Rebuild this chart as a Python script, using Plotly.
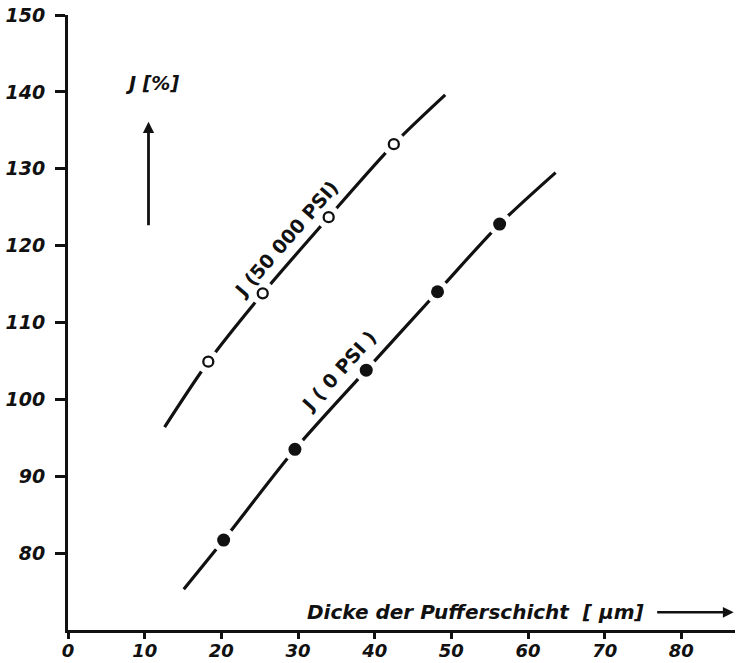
import plotly.graph_objects as go

line_50000_x = [12.6, 18.3, 25.4, 34.0, 42.5, 49.2]
line_50000_y = [96.4, 104.9, 113.8, 123.7, 133.2, 139.6]
pts_50000_x = [18.3, 25.4, 34.0, 42.5]
pts_50000_y = [104.9, 113.8, 123.7, 133.2]

# Curve for J (0 PSI)
line_0_x = [15.1, 20.3, 29.6, 38.9, 48.2, 56.3, 63.6]
line_0_y = [75.3, 81.7, 93.5, 103.8, 114.0, 122.8, 129.5]
pts_0_x = [20.3, 29.6, 38.9, 48.2, 56.3]
pts_0_y = [81.7, 93.5, 103.8, 114.0, 122.8]

x_ticks = [0, 10, 20, 30, 40, 50, 60, 70, 80]
y_ticks = [80, 90, 100, 110, 120, 130, 140, 150]

FONT = "DejaVu Sans"
BLACK = "#111111"

fig = go.Figure()

for lx, ly in [(line_50000_x, line_50000_y), (line_0_x, line_0_y)]:
    fig.add_trace(go.Scatter(x=lx, y=ly, mode="lines",
                             line=dict(color=BLACK, width=3.2, shape="spline", smoothing=0.8),
                             hoverinfo="skip", showlegend=False))

# white halos to create gaps in the lines around markers
for px, py in [(pts_50000_x, pts_50000_y), (pts_0_x, pts_0_y)]:
    fig.add_trace(go.Scatter(x=px, y=py, mode="markers",
                             marker=dict(size=24, color="white", line=dict(width=0)),
                             hoverinfo="skip", showlegend=False))

fig.add_trace(go.Scatter(x=pts_50000_x, y=pts_50000_y, mode="markers",
                         marker=dict(size=10, color="white", symbol="circle",
                                     line=dict(color=BLACK, width=2.3)),
                         showlegend=False))
fig.add_trace(go.Scatter(x=pts_0_x, y=pts_0_y, mode="markers",
                         marker=dict(size=13, color=BLACK, symbol="circle",
                                     line=dict(width=0)),
                         showlegend=False))

tickfont = dict(family=FONT, size=19, color=BLACK, weight="bold", style="italic")

fig.update_xaxes(range=[0, 87], tickvals=x_ticks, ticktext=[str(v) for v in x_ticks],
                 showline=True, linecolor=BLACK, linewidth=3, ticks="outside",
                 ticklen=6, tickwidth=2.5, tickcolor=BLACK, showgrid=False,
                 zeroline=False, tickfont=dict(tickfont, size=18), ticklabelstandoff=-4,
                 automargin=False)
fig.update_yaxes(range=[70, 150], tickvals=y_ticks, ticktext=[str(v) for v in y_ticks],
                 showline=True, linecolor=BLACK, linewidth=3, ticks="outside",
                 ticklen=10, tickwidth=2.5, tickcolor=BLACK, showgrid=False,
                 zeroline=False, tickfont=tickfont, ticklabelstandoff=6,
                 automargin=False)

annfont = dict(family=FONT, size=19, color=BLACK, weight="bold")
fig.add_annotation(x=28.4, y=120.9, text="J (50 000 PSI)", textangle=-49,
                   showarrow=False, font=annfont)
fig.add_annotation(x=35.3, y=103.7, text="J ( 0 PSI )", textangle=-48,
                   showarrow=False, font=annfont)

labfont = dict(family=FONT, size=20, color=BLACK, weight="bold", style="italic")
fig.add_annotation(x=10.9, y=141.2, text="J [%]", showarrow=False,
                   font=dict(family=FONT, size=19, color=BLACK, weight="bold", style="italic"))
fig.add_annotation(x=10.5, y=136.1, ax=0, ay=105, axref="pixel", ayref="pixel",
                   text="", showarrow=True, arrowhead=2, arrowsize=0.8,
                   arrowwidth=2.8, arrowcolor=BLACK)
fig.add_annotation(x=53.1, y=72.4, text="Dicke der Pufferschicht  [ μm]",
                   showarrow=False, font=labfont)
fig.add_annotation(x=0.998, xref="paper", y=72.3, ax=-78, ay=0,
                   axref="pixel", ayref="pixel", text="", showarrow=True,
                   arrowhead=2, arrowsize=0.9, arrowwidth=2.4, arrowcolor=BLACK)

fig.update_layout(width=738, height=663, margin=dict(l=68, r=3, t=15, b=33),
                  paper_bgcolor="white", plot_bgcolor="white")

fig.write_html("out.html", config={"displayModeBar": False},
               post_script="document.body.style.margin='0';document.body.style.overflow='hidden';")
